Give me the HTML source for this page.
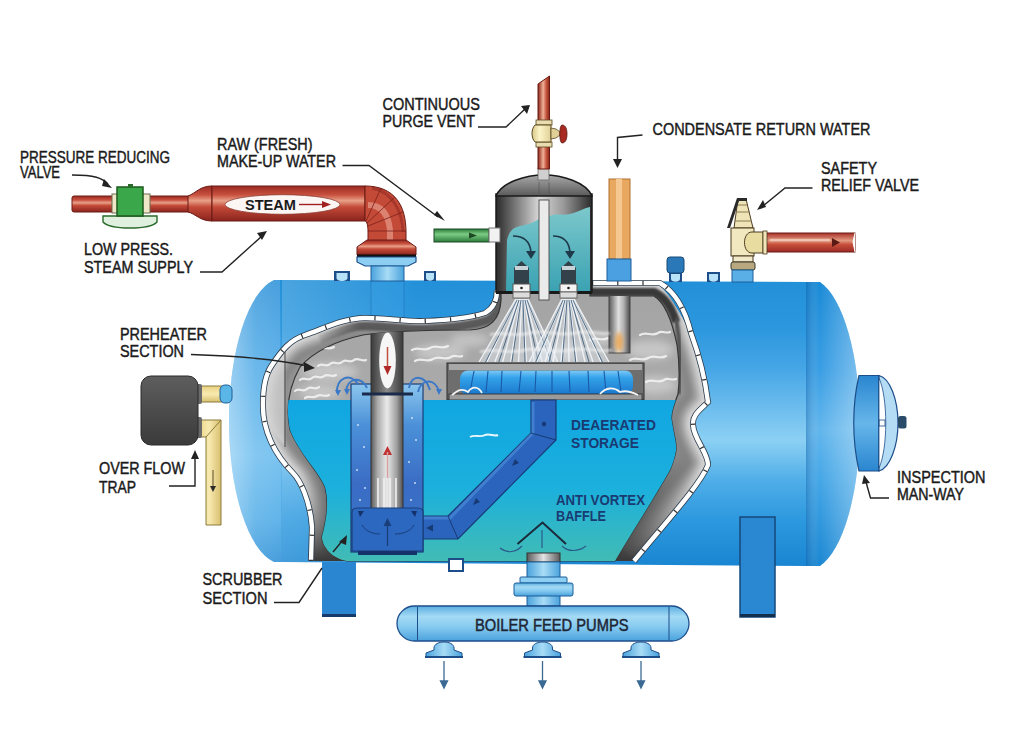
<!DOCTYPE html>
<html><head><meta charset="utf-8">
<style>
html,body{margin:0;padding:0;background:#fff;}
svg{display:block;}
text{font-family:"Liberation Sans",sans-serif;}
</style></head><body>
<svg width="1024" height="750" viewBox="0 0 1024 750">
<defs>
  <linearGradient id="gBody" x1="0" y1="0" x2="0" y2="1">
    <stop offset="0" stop-color="#2290d8"/>
    <stop offset="0.17" stop-color="#2c97de"/>
    <stop offset="0.31" stop-color="#46a6e6"/>
    <stop offset="0.49" stop-color="#78c4f0"/>
    <stop offset="0.56" stop-color="#8cd0f4"/>
    <stop offset="0.70" stop-color="#50aee8"/>
    <stop offset="0.84" stop-color="#2c98de"/>
    <stop offset="1" stop-color="#1a86d2"/>
  </linearGradient>
  <linearGradient id="gCapL" x1="0" y1="0" x2="1" y2="0">
    <stop offset="0" stop-color="#8ccaee"/>
    <stop offset="0.35" stop-color="#5ab0e8"/>
    <stop offset="1" stop-color="#3a9ce0"/>
  </linearGradient>
  <linearGradient id="gCapR" x1="0" y1="0" x2="1" y2="0">
    <stop offset="0" stop-color="#3a9ce0"/>
    <stop offset="0.25" stop-color="#4eaae8"/>
    <stop offset="0.6" stop-color="#45a4e4"/>
    <stop offset="1" stop-color="#86c8f0"/>
  </linearGradient>
  <linearGradient id="gWater" x1="0" y1="0" x2="0" y2="1">
    <stop offset="0" stop-color="#10a6e2"/>
    <stop offset="0.55" stop-color="#1cb0dc"/>
    <stop offset="1" stop-color="#42bcb4"/>
  </linearGradient>
  <linearGradient id="gSteam" x1="0" y1="0" x2="0" y2="1">
    <stop offset="0" stop-color="#a4a4a4"/>
    <stop offset="1" stop-color="#b4b4b4"/>
  </linearGradient>
  <linearGradient id="gBand" x1="0" y1="0" x2="1" y2="1">
    <stop offset="0" stop-color="#d8d8d8"/>
    <stop offset="0.5" stop-color="#9c9c9c"/>
    <stop offset="1" stop-color="#5a5a5a"/>
  </linearGradient>
  <linearGradient id="gRed" x1="0" y1="0" x2="0" y2="1">
    <stop offset="0" stop-color="#a8302a"/>
    <stop offset="0.4" stop-color="#e39a80"/>
    <stop offset="0.6" stop-color="#c8503c"/>
    <stop offset="1" stop-color="#9a2a24"/>
  </linearGradient>
  <linearGradient id="gGrayCyl" x1="0" y1="0" x2="1" y2="0">
    <stop offset="0" stop-color="#3a3a3a"/>
    <stop offset="0.5" stop-color="#c8c8c8"/>
    <stop offset="1" stop-color="#3a3a3a"/>
  </linearGradient>
</defs>
<rect width="1024" height="750" fill="#fff"/>

<!-- left leg (behind) -->
<rect x="322" y="555" width="34" height="62" fill="#2a86d0"/>
<rect x="322" y="614" width="34" height="3" fill="#163a6a"/>

<!-- tank -->
<linearGradient id="gCapV" x1="0" y1="0" x2="0" y2="1">
  <stop offset="0" stop-color="#1a8ad6"/><stop offset="0.31" stop-color="#3a9ee4"/><stop offset="0.52" stop-color="#62b6ec"/><stop offset="0.7" stop-color="#44a6e6"/><stop offset="1" stop-color="#1a86d2"/>
</linearGradient>
<linearGradient id="gCapRH" x1="0" y1="0" x2="1" y2="0">
  <stop offset="0" stop-color="#003a80" stop-opacity="0.25"/><stop offset="0.25" stop-color="#ffffff" stop-opacity="0"/><stop offset="1" stop-color="#ffffff" stop-opacity="0.35"/>
</linearGradient>
<linearGradient id="gCapLH" x1="0" y1="0" x2="1" y2="0">
  <stop offset="0" stop-color="#ffffff" stop-opacity="0.45"/><stop offset="0.45" stop-color="#ffffff" stop-opacity="0.2"/><stop offset="1" stop-color="#ffffff" stop-opacity="0.12"/>
</linearGradient>
<linearGradient id="gCapLV" x1="0" y1="0" x2="0" y2="1"><stop offset="0" stop-color="#2a90d8"/><stop offset="0.3" stop-color="#46a6e6"/><stop offset="0.62" stop-color="#66baee"/><stop offset="0.85" stop-color="#48a8e6"/><stop offset="1" stop-color="#2a8ed6"/></linearGradient>
<path id="capL" d="M288 280 L274 280 A54 143 0 0 0 274 562 L288 562 Z" fill="url(#gCapLV)"/>
<path d="M288 280 L274 280 A54 143 0 0 0 274 562 L288 562 Z" fill="url(#gCapLH)"/>
<path d="M280 280 L810 282 L810 566 L282 562 Z" fill="url(#gBody)"/>
<linearGradient id="gBodyL" gradientUnits="userSpaceOnUse" x1="283" x2="420" y1="0" y2="0"><stop offset="0" stop-color="#ffffff" stop-opacity="0.18"/><stop offset="1" stop-color="#ffffff" stop-opacity="0"/></linearGradient>
<path d="M282 280 L420 280.5 L420 562.5 L282 562 Z" fill="url(#gBodyL)"/>
<path d="M806 282 L820 282 A52 146 0 0 1 820 566 L806 566 Z" fill="url(#gCapV)"/>
<path d="M806 282 L820 282 A52 146 0 0 1 820 566 L806 566 Z" fill="url(#gCapRH)"/>
<rect x="371" y="281" width="33" height="45" fill="#3aa0e6" opacity="0.35"/><line x1="371" y1="281" x2="371" y2="322" stroke="#1d6ab0" stroke-width="0.8" opacity="0.6"/><line x1="404" y1="281" x2="404" y2="320" stroke="#1d6ab0" stroke-width="0.8" opacity="0.6"/>
<!-- cutaway -->
<path id="cutOuter" d="M311 561 L312 527 C310 500 300 480 293 473 C275 455 262 430 263 403 C263 388 265 375 272 365 C282 350 290 340 305 335 C325 328 345 318 365 318 C390 318 405 322 425 321 C450 320 470 318 485 313 C494 308 497 300 497 290 L592 290 L592 283 L656 283 C668 290 685 320 698 350 C705 370 709 390 708 402 C700 410 692 415 693 425 C694 440 708 452 708 465 C700 485 666 522 634 561 Z" fill="url(#gBandV)"/>
<linearGradient id="gBandV" gradientUnits="userSpaceOnUse" x1="0" x2="0" y1="283" y2="561"><stop offset="0" stop-color="#a0a0a0"/><stop offset="0.6" stop-color="#8c8c8c"/><stop offset="1" stop-color="#3a3a3a"/></linearGradient>
<clipPath id="clipOuter"><use href="#cutOuter"/></clipPath>
<filter id="blur3" x="-10%" y="-10%" width="120%" height="120%"><feGaussianBlur stdDeviation="3"/></filter>
<linearGradient id="gMaskV" gradientUnits="userSpaceOnUse" x1="0" x2="0" y1="470" y2="561"><stop offset="0" stop-color="#fff"/><stop offset="1" stop-color="#000"/></linearGradient>
<mask id="maskBottom" maskUnits="userSpaceOnUse" x="0" y="0" width="1024" height="750"><rect x="0" y="0" width="1024" height="750" fill="url(#gMaskV)"/></mask>
<g clip-path="url(#clipOuter)"><g mask="url(#maskBottom)"><g fill="none" filter="url(#blur3)">
  <path d="M311 561 L312 527 C310 500 300 480 293 473 C275 455 262 430 263 403 C263 388 265 375 272 365 C282 350 290 340 305 335 C325 328 345 318 365 318 C390 318 405 322 425 321 C450 320 470 318 485 313 C494 308 497 300 497 290 M592 283 L660 283 C672 290 684 305 691 333 C698 352 705 378 708 402 C700 410 692 415 693 425 C694 440 708 452 708 465 C700 485 666 522 634 561" stroke="#7e7e7e" stroke-width="40"/>
  <path d="M311 561 L312 527 C310 500 300 480 293 473 C275 455 262 430 263 403 C263 388 265 375 272 365 C282 350 290 340 305 335 C325 328 345 318 365 318 C390 318 405 322 425 321 C450 320 470 318 485 313 C494 308 497 300 497 290 M592 283 L660 283 C672 290 684 305 691 333 C698 352 705 378 708 402 C700 410 692 415 693 425 C694 440 708 452 708 465 C700 485 666 522 634 561" stroke="#9c9c9c" stroke-width="28"/>
  <path d="M311 561 L312 527 C310 500 300 480 293 473 C275 455 262 430 263 403 C263 388 265 375 272 365 C282 350 290 340 305 335 C325 328 345 318 365 318 C390 318 405 322 425 321 C450 320 470 318 485 313 C494 308 497 300 497 290 M592 283 L660 283 C672 290 684 305 691 333 C698 352 705 378 708 402 C700 410 692 415 693 425 C694 440 708 452 708 465 C700 485 666 522 634 561" stroke="#b8b8b8" stroke-width="18"/>
  <path d="M311 561 L312 527 C310 500 300 480 293 473 C275 455 262 430 263 403 C263 388 265 375 272 365 C282 350 290 340 305 335 C325 328 345 318 365 318 C390 318 405 322 425 321 C450 320 470 318 485 313 C494 308 497 300 497 290 M592 283 L660 283 C672 290 684 305 691 333 C698 352 705 378 708 402 C700 410 692 415 693 425 C694 440 708 452 708 465 C700 485 666 522 634 561" stroke="#dadada" stroke-width="12"/>
</g></g>
<path d="M262 370 C275 357 280 353 285 350 L285 447 C276 437 262 420 262 403 Z" fill="#d4d4d4" opacity="0.75" filter="url(#blur1)"/>
<path d="M320 339 C335 334 348 326 365 326 C390 326 405 330 425 329 C450 328 470 326 488 320 C498 314 501 305 501 292" fill="none" stroke="url(#gTaper)" stroke-width="9" filter="url(#blur1)"/>
</g>
<path d="M311 561 L312 527 C310 500 300 480 293 473 C275 455 262 430 263 403 C263 388 265 375 272 365 C282 350 290 340 305 335 C325 328 345 318 365 318 C390 318 405 322 425 321 C450 320 470 318 485 313 C494 308 497 300 497 290 M592 283 L660 283 C672 290 684 305 691 333 C698 352 705 378 708 402 C700 410 692 415 693 425 C694 440 708 452 708 465 C700 485 666 522 634 561" fill="none" stroke="#2a3a4a" stroke-width="6"/>
<path d="M311 561 L312 527 C310 500 300 480 293 473 C275 455 262 430 263 403 C263 388 265 375 272 365 C282 350 290 340 305 335 C325 328 345 318 365 318 C390 318 405 322 425 321 C450 320 470 318 485 313 C494 308 497 300 497 290 M592 283 L660 283 C672 290 684 305 691 333 C698 352 705 378 708 402 C700 410 692 415 693 425 C694 440 708 452 708 465 C700 485 666 522 634 561" fill="none" stroke="#fff" stroke-width="4.4"/>
<path d="M311 561 L312 527 C310 500 300 480 293 473 C275 455 262 430 263 403 C263 388 265 375 272 365 C282 350 290 340 305 335 C325 328 345 318 365 318 C390 318 405 322 425 321 C450 320 470 318 485 313 C494 308 497 300 497 290 M592 283 L660 283 C672 290 684 305 691 333 C698 352 705 378 708 402 C700 410 692 415 693 425 C694 440 708 452 708 465 C700 485 666 522 634 561" fill="none" stroke="#333" stroke-width="4.4" stroke-dasharray="1.2 24"/>
<path d="M588 292 L654 292 C665 297 672 308 676 322" fill="none" stroke="#383838" stroke-width="8" filter="url(#blur1)"/>
<linearGradient id="gTaper" gradientUnits="userSpaceOnUse" x1="310" x2="360" y1="0" y2="0"><stop offset="0" stop-color="#505050" stop-opacity="0"/><stop offset="1" stop-color="#505050" stop-opacity="0.9"/></linearGradient>

<path d="M676 318 C680 340 681 370 679 394" fill="none" stroke="#505050" stroke-width="4" filter="url(#blur1)"/>
<filter id="blur1" x="-20%" y="-20%" width="140%" height="140%"><feGaussianBlur stdDeviation="1.2"/></filter>
<path id="cutInner" d="M347 561 C330 558 322 545 322 537 C325 525 330 505 325 487 C318 470 300 455 290 430 C286 410 287 390 300 367 C315 350 340 340 363 335 C390 331 420 330 470 330 C490 329 500 320 501 300 L501 292 L590 292 L590 296 L654 296 C664 302 672 320 677 345 C680 365 679 385 678 394 C674 405 670 415 672 422 C674 435 677 445 676 450 C675 458 672 465 670 470 C650 505 630 535 615 561 Z" fill="url(#gSteam)" stroke="#333" stroke-width="1.2"/>
<path d="M285 352 L285 447" stroke="#444" stroke-width="1"/>
<clipPath id="clipInner"><use href="#cutInner"/></clipPath>



<g clip-path="url(#clipInner)">
  <!-- mist blobs -->
  <filter id="blur4" x="-50%" y="-50%" width="200%" height="200%"><feGaussianBlur stdDeviation="4"/></filter>
  <g fill="#e0e0e0" opacity="0.55" filter="url(#blur4)">
    <ellipse cx="330" cy="372" rx="28" ry="9"/><ellipse cx="320" cy="392" rx="22" ry="7"/>
    <ellipse cx="440" cy="352" rx="26" ry="8"/><ellipse cx="470" cy="340" rx="20" ry="6"/>
    <ellipse cx="650" cy="350" rx="24" ry="10"/><ellipse cx="655" cy="385" rx="22" ry="9"/>
    <ellipse cx="600" cy="340" rx="16" ry="6"/><ellipse cx="560" cy="352" rx="26" ry="7"/>
  </g>
  <!-- clouds -->
  <g fill="none" stroke="#f2f2f2" stroke-width="2.2" stroke-linecap="round" opacity="0.9">
    <path d="M318 366 C322 362 326 368 330 364 C334 360 338 366 342 362 C346 358 350 364 354 360 C358 357 362 362 366 360"/>
    <path d="M300 380 C304 376 308 382 312 378 C316 374 320 380 324 376 C328 373 332 378 336 375"/>
    <path d="M295 391 C299 387 303 393 307 389 C311 385 315 391 319 387"/>
    <path d="M305 398 C309 395 313 399 317 396 C321 393 325 398 329 395"/>
    <path d="M412 350 C418 346 424 352 430 348 C436 344 442 350 448 346"/>
    <path d="M415 361 C421 357 427 363 433 359 C439 355 445 361 451 357 C455 354 459 358 462 356"/>
    <path d="M300 352 C305 347 310 353 316 349 C322 345 328 351 334 347"/>
    <path d="M590 340 C596 336 602 342 608 338"/>
    <path d="M640 335 C646 331 652 337 658 333 C662 330 666 334 670 332"/>
    <path d="M630 360 C636 356 642 362 648 358 C654 354 660 360 666 356"/>
    <path d="M460 385 C466 381 472 387 478 383"/>
    <path d="M646 382 C652 378 658 384 664 380 C668 377 672 381 676 379"/>
    <path d="M600 395 C606 391 612 397 618 393 C624 389 630 395 636 391"/>
  </g>
  <!-- condensate inner -->
  <linearGradient id="gCondIn" x1="0" y1="0" x2="1" y2="0"><stop offset="0" stop-color="#5a5a5a"/><stop offset="0.45" stop-color="#e0e0e0"/><stop offset="0.7" stop-color="#b0b0b0"/><stop offset="1" stop-color="#4a4a4a"/></linearGradient>
  <rect x="609" y="290" width="21" height="63" fill="url(#gCondIn)" stroke="#444" stroke-width="1"/>
  <filter id="blur2" x="-50%" y="-50%" width="200%" height="200%"><feGaussianBlur stdDeviation="2"/></filter>
  <ellipse cx="619" cy="342" rx="4" ry="10" fill="#f0a040" opacity="0.8" filter="url(#blur2)"/>
  <!-- spray fans -->
  <path d="M515 299 L529 299 L558 362 L479 362 Z" fill="#dfe8f0" opacity="0.45"/>
  <g stroke="#f2f6fa" stroke-width="1.4" fill="none" opacity="0.9"><path d="M516.0 299 L479.0 362"/><path d="M517.2 299 L486.9 362"/><path d="M518.4 299 L494.8 362"/><path d="M519.6 299 L502.7 362"/><path d="M520.8 299 L510.6 362"/><path d="M522.0 299 L518.5 362"/><path d="M523.2 299 L526.4 362"/><path d="M524.4 299 L534.3 362"/><path d="M525.6 299 L542.2 362"/><path d="M526.8 299 L550.1 362"/><path d="M528.0 299 L558.0 362"/></g>
  <g stroke="#3a5a7a" stroke-width="1" fill="none" opacity="0.85"><path d="M517.0 300 L485.6 362"/><path d="M519.0 300 L498.8 362"/><path d="M521.0 300 L511.9 362"/><path d="M523.0 300 L525.1 362"/><path d="M525.0 300 L538.2 362"/><path d="M527.0 300 L551.4 362"/></g>
  <path d="M561 299 L575 299 L609 362 L529 362 Z" fill="#dfe8f0" opacity="0.45"/>
  <g stroke="#f2f6fa" stroke-width="1.4" fill="none" opacity="0.9"><path d="M562.0 299 L529.0 362"/><path d="M563.2 299 L537.0 362"/><path d="M564.4 299 L545.0 362"/><path d="M565.6 299 L553.0 362"/><path d="M566.8 299 L561.0 362"/><path d="M568.0 299 L569.0 362"/><path d="M569.2 299 L577.0 362"/><path d="M570.4 299 L585.0 362"/><path d="M571.6 299 L593.0 362"/><path d="M572.8 299 L601.0 362"/><path d="M574.0 299 L609.0 362"/></g>
  <g stroke="#3a5a7a" stroke-width="1" fill="none" opacity="0.85"><path d="M563.0 300 L535.7 362"/><path d="M565.0 300 L549.0 362"/><path d="M567.0 300 L562.3 362"/><path d="M569.0 300 L575.7 362"/><path d="M571.0 300 L589.0 362"/><path d="M573.0 300 L602.3 362"/></g>
  <g fill="none" stroke="#f4f4f4" stroke-width="3" opacity="0.6" filter="url(#blur1)"><path d="M490 335 C500 330 515 338 530 333 C545 329 560 337 575 333 C590 329 600 336 610 333"/><path d="M480 352 C495 347 510 355 525 350 C540 346 555 354 570 350 C585 346 600 353 612 350"/></g>
  <!-- tray -->
  <linearGradient id="gTrayW" x1="0" y1="0" x2="0" y2="1"><stop offset="0" stop-color="#7ccaf6"/><stop offset="0.3" stop-color="#34a2ea"/><stop offset="1" stop-color="#1a78cc"/></linearGradient>
  <rect x="447" y="363" width="197" height="37" fill="#6e6e6e" stroke="#2a2a2a" stroke-width="1"/>
  <rect x="449" y="364" width="193" height="6" fill="#a8a8a8"/>
  <rect x="460" y="370.5" width="173" height="24" rx="8" fill="url(#gTrayW)"/>
  <g stroke="#1a5aa8" stroke-width="1.1">
    <line x1="474" y1="371" x2="470" y2="392"/><line x1="488" y1="371" x2="486" y2="392"/><line x1="502" y1="371" x2="501" y2="392"/>
    <line x1="521" y1="371" x2="519" y2="392"/><line x1="536" y1="371" x2="535" y2="392"/><line x1="552" y1="371" x2="552" y2="392"/>
    <line x1="569" y1="371" x2="570" y2="392"/><line x1="588" y1="371" x2="589" y2="392"/><line x1="604" y1="371" x2="606" y2="392"/><line x1="618" y1="371" x2="621" y2="392"/>
  </g>
  <rect x="449" y="394" width="193" height="6" fill="#9a9a9a" stroke="#2a2a2a" stroke-width="0.8"/>
  <path d="M452 395 C458 390 462 388 468 392 C472 386 478 386 482 393" fill="none" stroke="#f4f4f4" stroke-width="1.8"/>
  <path d="M600 394 C606 387 614 387 620 392 C626 390 632 392 638 395" fill="none" stroke="#f4f4f4" stroke-width="1.8"/>
  <!-- water region overlay -->
  <rect x="280" y="400" width="420" height="162" fill="url(#gWater)"/>
  <path d="M470 437 C475 434 480 438 485 435 C490 433 494 437 498 435" fill="none" stroke="#e8f6fc" stroke-width="2"/>
  <!-- slanted downcomer pipe -->
  <path d="M531 400 L556 400 L556 440 L458 539 L416 539 L416 516 L448 516 L531 433 Z" fill="#2a64bc" stroke="#183a74" stroke-width="1.2"/>
  <path d="M533 402 L533 433 L450 518 L418 518" fill="none" stroke="#4a8ad8" stroke-width="3" opacity="0.7"/>
  <path d="M531 433 L556 440 M448 516 L458 539" stroke="#183a74" stroke-width="1"/>
  <circle cx="544" cy="424" r="2.2" fill="#183a74"/>
  <path d="M512 466 L519 463 L515 459 Z" fill="#183a74"/>
  <path d="M473 505 L480 502 L476 498 Z" fill="#183a74"/>
  <path d="M426 528 L433 524.5 L433 531.5 Z" fill="#183a74"/>
  <!-- scrubber -->
  <linearGradient id="gScrub" x1="0" y1="0" x2="0" y2="1">
    <stop offset="0" stop-color="#8cc6ee"/><stop offset="0.25" stop-color="#4a90d8"/><stop offset="0.6" stop-color="#3a6cc4"/><stop offset="1" stop-color="#3a78cc"/>
  </linearGradient>
  <rect x="351" y="384" width="72" height="168" fill="url(#gScrub)" stroke="#1a3e7a" stroke-width="1.2"/>
  <g fill="#e8f4ff" opacity="0.8">
    <circle cx="358" cy="425" r="1"/><circle cx="364" cy="447" r="1"/><circle cx="357" cy="470" r="1"/><circle cx="365" cy="488" r="1"/>
    <circle cx="412" cy="418" r="1"/><circle cx="416" cy="440" r="1"/><circle cx="409" cy="462" r="1"/><circle cx="415" cy="483" r="1"/>
    <circle cx="360" cy="500" r="1"/><circle cx="411" cy="500" r="1"/>
  </g>
  <linearGradient id="gPipeDark" x1="0" y1="0" x2="1" y2="0">
    <stop offset="0" stop-color="#3a3a3a"/><stop offset="0.5" stop-color="#8a8a8a"/><stop offset="1" stop-color="#3a3a3a"/>
  </linearGradient>
  <linearGradient id="gPipeLight" x1="0" y1="0" x2="1" y2="0">
    <stop offset="0" stop-color="#5a5a5a"/><stop offset="0.2" stop-color="#a8a8a8"/><stop offset="0.5" stop-color="#eaeaea"/><stop offset="0.8" stop-color="#a0a0a0"/><stop offset="1" stop-color="#505050"/>
  </linearGradient>
  <rect x="371" y="331" width="32" height="63" fill="url(#gPipeDark)" stroke="#333" stroke-width="1"/>
  <rect x="371" y="394" width="32" height="115" fill="url(#gPipeLight)" stroke="#333" stroke-width="1"/>
  <g stroke="#f0f0f0" stroke-width="2" opacity="0.8">
    <line x1="378" y1="478" x2="378" y2="508"/><line x1="384" y1="478" x2="384" y2="508"/><line x1="390" y1="478" x2="390" y2="508"/><line x1="396" y1="478" x2="396" y2="508"/>
  </g>
  <line x1="362" y1="394" x2="413" y2="394" stroke="#1a2a4a" stroke-width="2.8"/>
  <ellipse cx="387.5" cy="360.5" rx="8.3" ry="28" fill="#f6f6f6"/>
  <line x1="387.5" y1="347" x2="387.5" y2="368" stroke="#c05040" stroke-width="1.5"/>
  <path d="M383.5 366 L391.5 366 L387.5 375 Z" fill="#b02828"/>
  <path d="M383 455 L392 455 L387.5 446 Z" fill="#c03030"/>
  <line x1="387.5" y1="452" x2="387.5" y2="478" stroke="#d8a0a0" stroke-width="1.5"/>
  <path d="M352 512 Q352 508 358 508 L417 508 Q423 508 423 512 L423 551 L352 551 Z" fill="#2d68c0" stroke="#1a3e7a" stroke-width="1.2"/>
  <rect x="358" y="551" width="59" height="4" fill="#16326a"/>
  <path d="M358 511 L364 511 L360 517 Z M411 511 L417 511 L415 517 Z" fill="#16326a"/>
  <path d="M387.5 546 L387.5 522" stroke="#1a3e7a" stroke-width="1.3"/>
  <path d="M383.5 526 L391.5 526 L387.5 518 Z" fill="#1a3e7a"/>
  <path d="M362 525 C366 532 374 534 380 534 M395 534 C402 534 410 532 414 525" fill="none" stroke="#1a3e7a" stroke-width="1"/>
  <!-- fountains -->
  <g fill="none" stroke="#3a78c8" stroke-width="2">
    <path d="M337 393 C336 378 350 372 358 384"/>
    <path d="M346 392 C347 377 362 376 367 388"/>
    <path d="M409 388 C411 374 425 374 430 390"/>
    <path d="M418 392 C421 378 436 378 439 392"/>
  </g>
  <g fill="#3a78c8"><path d="M335 390 L341 390 L338 396 Z"/><path d="M344 389 L350 389 L347 395 Z"/><path d="M436 389 L442 389 L439 395 Z"/></g>
  <!-- baffle -->
  <path d="M517.5 544 L542.5 522.5 L566 544" fill="none" stroke="#1a2a3a" stroke-width="2"/>
  <g fill="none" stroke="#2a5a8a" stroke-width="1.2">
    <path d="M500 548 C508 554 516 552 522 546"/><path d="M562 546 C568 552 578 552 586 546"/>
    <path d="M542 530 L542 548"/>
  </g>
  <text x="571" y="429.5" font-size="15.3" font-weight="bold" fill="#1a3a72" textLength="85" lengthAdjust="spacingAndGlyphs">DEAERATED</text>
  <text x="571" y="447.5" font-size="15.3" font-weight="bold" fill="#1a3a72" textLength="68" lengthAdjust="spacingAndGlyphs">STORAGE</text>
  <text x="556" y="505" font-size="14" font-weight="bold" fill="#1a3a72" textLength="89" lengthAdjust="spacingAndGlyphs">ANTI VORTEX</text>
  <text x="556" y="521" font-size="15" font-weight="bold" fill="#1a3a72" textLength="50" lengthAdjust="spacingAndGlyphs">BAFFLE</text>
</g>


<!-- top nozzles -->
<path d="M334 271 L350 271 L350 281 L334 281 Z" fill="#1d4e8a"/><path d="M336.5 273 L347.5 273 L347.5 278 C347.5 282 336.5 282 336.5 278 Z" fill="#b8e2f8"/>
<path d="M424 271 L436 271 L436 281 L424 281 Z" fill="#1d4e8a"/><path d="M426 273 L434 273 L434 278 C434 281.5 426 281.5 426 278 Z" fill="#b8e2f8"/>
<path d="M707 272 L720 272 L720 282 L707 282 Z" fill="#1d4e8a"/><path d="M709 274 L718 274 L718 279 C718 282.5 709 282.5 709 279 Z" fill="#b8e2f8"/>
<path d="M669 272 L682 272 L682 282 L669 282 Z" fill="#1d4e8a"/><path d="M671 274 L680 274 L680 279 C680 282.5 671 282.5 671 279 Z" fill="#b8e2f8"/>
<rect x="667" y="257" width="17" height="16" rx="3" fill="#2a78b8" stroke="#184a7a" stroke-width="1"/>

<!-- dome -->
<linearGradient id="gCap" x1="0" y1="0" x2="0" y2="1"><stop offset="0" stop-color="#a8a8a8"/><stop offset="1" stop-color="#5a5a5a"/></linearGradient>
<linearGradient id="gCyl2" x1="0" y1="0" x2="1" y2="0"><stop offset="0" stop-color="#2a2a2a"/><stop offset="0.45" stop-color="#d8d8d8"/><stop offset="0.7" stop-color="#9a9a9a"/><stop offset="1" stop-color="#2a2a2a"/></linearGradient>
<linearGradient id="gTeal" x1="0" y1="0" x2="0" y2="1"><stop offset="0" stop-color="#7cc8cc"/><stop offset="1" stop-color="#3aa2b2"/></linearGradient>
<rect x="496" y="194" width="96" height="98" fill="url(#gCyl2)" stroke="#1a1a1a" stroke-width="1.5"/>
<path d="M506 292 L507 240 C509 232 512 228 520 226 C530 224 535 222 540 218 L550 216 C556 213 562 216 570 214 C578 212 584 208 590 207 L590 292 Z" fill="url(#gTeal)"/>
<rect x="496" y="291" width="96" height="3" fill="#1a1a1a"/>
<path d="M496 196 C502 182 526 175 544 175 C562 175 586 182 592 196 Z" fill="url(#gCap)" stroke="#1a1a1a" stroke-width="1.5"/>
<rect x="538" y="168" width="11" height="12" fill="#d0d0d0" stroke="#666" stroke-width="0.8"/>
<line x1="539" y1="182" x2="539" y2="194" stroke="#444" stroke-width="0.8" opacity="0.6"/><line x1="549" y1="182" x2="549" y2="194" stroke="#444" stroke-width="0.8" opacity="0.6"/>
<rect x="539" y="200" width="10" height="100" fill="#eaeaea" stroke="#4a4a4a" stroke-width="0.9"/>
<path d="M513 236 C524 236 530 242 531 252" fill="none" stroke="#1e3a4a" stroke-width="1.6"/>
<path d="M526 251 L536 251 L531 259 Z" fill="#1e3a4a"/>
<path d="M553 236 C564 236 569 242 570 252" fill="none" stroke="#1e3a4a" stroke-width="1.6"/>
<path d="M565 251 L575 251 L570 259 Z" fill="#1e3a4a"/>
<path d="M514 285 L514 268 L521.5 261 L529 268 L529 285 Z" fill="#33414a"/><rect x="515" y="266" width="13" height="4" fill="#c8d4d8"/>
<rect x="513" y="284" width="17" height="8" fill="#f4f4f4" stroke="#555" stroke-width="1"/><circle cx="521.5" cy="288" r="1.3" fill="#222"/>
<rect x="513" y="292" width="17" height="6" fill="#dcdcdc" stroke="#555" stroke-width="0.8"/>
<path d="M561 285 L561 268 L568.5 261 L576 268 L576 285 Z" fill="#33414a"/><rect x="562" y="266" width="13" height="4" fill="#c8d4d8"/>
<rect x="560" y="284" width="17" height="8" fill="#f4f4f4" stroke="#555" stroke-width="1"/><circle cx="568.5" cy="288" r="1.3" fill="#222"/>
<rect x="560" y="292" width="17" height="6" fill="#dcdcdc" stroke="#555" stroke-width="0.8"/>

<!-- vent pipe -->
<linearGradient id="gRedVert" x1="0" y1="0" x2="1" y2="0"><stop offset="0" stop-color="#8a2418"/><stop offset="0.45" stop-color="#f0b098"/><stop offset="0.7" stop-color="#c85a44"/><stop offset="1" stop-color="#8a2418"/></linearGradient>
<linearGradient id="gCream" x1="0" y1="0" x2="1" y2="0"><stop offset="0" stop-color="#d8c888"/><stop offset="0.4" stop-color="#fcf4c8"/><stop offset="1" stop-color="#e0d098"/></linearGradient>
<path d="M538 169 L538 84 L549.5 76 L549.5 169 Z" fill="url(#gRedVert)" stroke="#6a1a10" stroke-width="1"/>
<rect x="536" y="120" width="16" height="5" fill="#e8dcb0" stroke="#5a4a20" stroke-width="0.8"/>
<rect x="536" y="142" width="16" height="5" fill="#e8dcb0" stroke="#5a4a20" stroke-width="0.8"/>
<path d="M535 125 L551 125 L551 142 L535 142 C531 138 531 129 535 125 Z" fill="url(#gCream)" stroke="#5a4a20" stroke-width="1"/>
<path d="M551 128 L556 129 L560 132 L560 135 L556 138 L551 139 Z" fill="#e0d098" stroke="#5a4a20" stroke-width="0.8"/>
<path d="M562 125 C566 125 567 130 567 134 C567 138 566 143 562 143 C559 143 559 125 562 125 Z" fill="#a82a22" stroke="#5a1a10" stroke-width="0.8"/>
<!-- green make-up pipe -->
<linearGradient id="gGrn" x1="0" y1="0" x2="0" y2="1"><stop offset="0" stop-color="#2a7a3a"/><stop offset="0.4" stop-color="#7ccc84"/><stop offset="1" stop-color="#2a7a3a"/></linearGradient>
<rect x="434" y="229" width="55" height="13" fill="url(#gGrn)" stroke="#1d4a24" stroke-width="1"/>
<path d="M469 232.5 L477 235.5 L469 238.5 Z" fill="#1d4a24"/>
<rect x="489" y="228" width="11" height="14" fill="#f2f2f2" stroke="#777" stroke-width="1"/>

<!-- red steam pipe -->
<linearGradient id="gRed2" x1="0" y1="0" x2="0" y2="1"><stop offset="0" stop-color="#9a2a22"/><stop offset="0.25" stop-color="#c8503e"/><stop offset="0.42" stop-color="#e8a088"/><stop offset="0.6" stop-color="#c44a38"/><stop offset="1" stop-color="#8a241e"/></linearGradient>
<linearGradient id="gRedV" x1="0" y1="0" x2="1" y2="0"><stop offset="0" stop-color="#9a2a22"/><stop offset="0.45" stop-color="#e8a088"/><stop offset="0.6" stop-color="#c44a38"/><stop offset="1" stop-color="#8a241e"/></linearGradient>
<rect x="72" y="196" width="120" height="16" rx="2" fill="url(#gRed2)" stroke="#6a1a14" stroke-width="1"/>
<rect x="112" y="194" width="38" height="19" fill="#efe8c8" stroke="#6a6a50" stroke-width="1"/>
<path d="M103 216 L157 216 L157 222 C150 230 110 230 103 222 Z" fill="#dff0df" stroke="#2a6a2a" stroke-width="1.4"/>
<rect x="117" y="187" width="26" height="29" fill="#3aa84a" stroke="#1d5a1d" stroke-width="1.5"/>
<rect x="128" y="184" width="5" height="3" fill="#2a6a2a"/>
<path d="M188 196 C196 193 200 186 212 186 L212 221 C200 221 196 214 188 212 Z" fill="url(#gRed2)" stroke="#6a1a14" stroke-width="1"/>
<rect x="212" y="186" width="153" height="35" fill="url(#gRed2)" stroke="#6a1a14" stroke-width="1"/>
<path d="M365 186 C395 186 406 206 406 232 L406 246 L368 246 L368 232 C368 226 367 221 365 221 Z" fill="#c44a38" stroke="#6a1a14" stroke-width="1"/>
<path d="M372 188 C392 192 402 210 403 232" fill="none" stroke="#8a241e" stroke-width="3" opacity="0.5"/>
<path d="M368 205 C380 205 388 212 390 230 L390 246" fill="none" stroke="#f0b0a0" stroke-width="6" opacity="0.55"/>
<g stroke="#7a2018" stroke-width="1" fill="none" opacity="0.8">
<path d="M366 221 L381 188"/><path d="M367 223 L395 197"/><path d="M368 226 L403 212"/><path d="M368 231 L406 231"/>
</g>
<path d="M367 240 L406 240 L416 247 L416 255 L357 255 L357 247 Z" fill="url(#gRed2)" stroke="#6a1a14" stroke-width="1"/>
<rect x="357" y="254.5" width="59" height="2.5" fill="#111"/>
<path d="M357 257 L416 257 L416 262 L408 266 L365 266 L357 262 Z" fill="#8ccff2" stroke="#1d4e8a" stroke-width="1.2"/>
<rect x="371" y="266" width="33" height="15" fill="url(#gHdrV)" stroke="#1d5e9a" stroke-width="1"/>
<ellipse cx="282.5" cy="204.5" rx="57.5" ry="9.8" fill="#fbf6f4" stroke="#8a3a30" stroke-width="0.8"/>
<text x="245" y="209.8" font-size="14.5" font-weight="bold" fill="#1a1a1a" textLength="51" lengthAdjust="spacingAndGlyphs">STEAM</text>
<line x1="299" y1="204.5" x2="324" y2="204.5" stroke="#a02020" stroke-width="1.4"/>
<path d="M322 201 L331 204.5 L322 208 Z" fill="#a02020"/>

<!-- condensate pipe -->
<rect x="609" y="179" width="21" height="80" fill="#e8a860" stroke="#b07030" stroke-width="1"/>
<rect x="616" y="179" width="6" height="80" fill="#f4c890"/>
<rect x="607" y="259" width="24" height="22" fill="#4aa0e0" stroke="#1d5e9a" stroke-width="1"/>

<!-- safety valve -->
<rect x="764" y="233" width="91" height="19" fill="url(#gRed)" stroke="#6a1a14" stroke-width="1"/>
<path d="M770 240 L830 240" stroke="#f4d0c0" stroke-width="2.5" opacity="0.8"/>
<path d="M832 238 L840 242.5 L832 247 Z" fill="#5a1a14"/>
<path d="M855 233 L853 242 L855 252" fill="#fff" stroke="#fff" stroke-width="1"/>
<path d="M738 199 L746 199 L753 228 L734 228 Z" fill="#efe4b8" stroke="#4a3a20" stroke-width="1"/>
<path d="M736 212 L750 212 M735 221 L752 221 M738 205 L747 205" stroke="#8a7a50" stroke-width="1"/>
<path d="M727 228 L737 198 L747 198 L747 201 L739 201 L730 228 Z" fill="#2a2a2a"/>
<rect x="731" y="228" width="23" height="28" fill="#f2e8c0" stroke="#4a3a20" stroke-width="1"/>
<path d="M752 232 L763 232 L763 253 L752 253 C742 253 742 232 752 232 Z" fill="#e8dca0" stroke="#4a3a20" stroke-width="1"/>
<rect x="763" y="231" width="4" height="23" fill="#f0e4b8" stroke="#4a3a20" stroke-width="0.8"/>
<rect x="733" y="256" width="20" height="6" fill="#f0e8c8" stroke="#4a3a20" stroke-width="1"/>
<rect x="731" y="262" width="24" height="8" rx="2" fill="#b8a880" stroke="#3a3a2a" stroke-width="1"/>
<rect x="732" y="270" width="21" height="12" fill="#5ab0e6" stroke="#1d5e9a" stroke-width="1"/>
<!-- right leg -->
<rect x="740" y="517" width="35" height="100" fill="#2a88d2" stroke="#16487a" stroke-width="1.5"/>
<rect x="740" y="614" width="35" height="3" fill="#12304e"/>

<!-- bottom small nozzle -->
<rect x="449" y="559" width="14" height="12" fill="#fff" stroke="#1d4e8a" stroke-width="2"/>

<!-- header -->
<linearGradient id="gHdr" x1="0" y1="0" x2="0" y2="1"><stop offset="0" stop-color="#5aaee2"/><stop offset="0.3" stop-color="#a4daf4"/><stop offset="0.6" stop-color="#86caf0"/><stop offset="1" stop-color="#4aa2dc"/></linearGradient>
<linearGradient id="gHdrV" x1="0" y1="0" x2="1" y2="0"><stop offset="0" stop-color="#4aa2dc"/><stop offset="0.5" stop-color="#a8dcf6"/><stop offset="1" stop-color="#4aa2dc"/></linearGradient>
<linearGradient id="gMetal" x1="0" y1="0" x2="1" y2="0"><stop offset="0" stop-color="#5a5a5a"/><stop offset="0.5" stop-color="#e4e4e4"/><stop offset="1" stop-color="#5a5a5a"/></linearGradient>
<rect x="527" y="553" width="33" height="9" fill="url(#gMetal)" stroke="#333" stroke-width="1"/>
<rect x="527" y="562" width="33" height="44" fill="url(#gHdrV)" stroke="#1d5e9a" stroke-width="1"/>
<rect x="520" y="577" width="47" height="6" rx="1" fill="#8ccff2" stroke="#1d5e9a" stroke-width="1"/>
<rect x="514" y="583" width="59" height="13" rx="2" fill="url(#gHdr)" stroke="#1d5e9a" stroke-width="1"/>
<rect x="397" y="606" width="292" height="35" rx="17.5" fill="url(#gHdr)" stroke="#1d4e8a" stroke-width="1.3"/>
<line x1="417.5" y1="607" x2="417.5" y2="640" stroke="#1d4e8a" stroke-width="1"/>
<line x1="669" y1="607" x2="669" y2="640" stroke="#1d4e8a" stroke-width="1"/>
<text x="475" y="630.6" font-size="17" fill="#1e2636" stroke="#1e2636" stroke-width="0.5" textLength="153.5" lengthAdjust="spacingAndGlyphs">BOILER FEED PUMPS</text>
<g fill="url(#gHdrV)" stroke="#1d4e8a" stroke-width="1">
<path d="M434 648 C434 640 454 640 454 648 L454 650 L462 653 L462 657 L426 657 L426 653 L434 650 Z"/>
<path d="M532.5 648 C532.5 640 552.5 640 552.5 648 L552.5 650 L560.5 653 L560.5 657 L524.5 657 L524.5 653 L532.5 650 Z"/>
<path d="M631 648 C631 640 651 640 651 648 L651 650 L659 653 L659 657 L623 657 L623 653 L631 650 Z"/>
</g>
<g fill="#1d4e8a"><rect x="425" y="656" width="38" height="2"/><rect x="523.5" y="656" width="38" height="2"/><rect x="622" y="656" width="38" height="2"/></g>
<g stroke="#3a6a94" stroke-width="1.3" fill="#3a6a94">
<line x1="444" y1="661" x2="444" y2="683"/><path d="M440.5 681 L447.5 681 L444 688 Z"/>
<line x1="542.5" y1="661" x2="542.5" y2="683"/><path d="M539 681 L546 681 L542.5 688 Z"/>
<line x1="641" y1="661" x2="641" y2="683"/><path d="M637.5 681 L644.5 681 L641 688 Z"/>
</g>

<!-- manway -->
<linearGradient id="gMan" x1="0" y1="0" x2="0" y2="1">
  <stop offset="0" stop-color="#2a86d0"/><stop offset="0.5" stop-color="#66b6ea"/><stop offset="1" stop-color="#2a86d0"/>
</linearGradient>
<path d="M859 375.5 L879 375.5 L879 471 L859 471 C852 440 852 405 859 375.5 Z" fill="url(#gMan)" stroke="#1d4e8a" stroke-width="1.2"/>
<path d="M879 375.5 C890 378 898 400 898 423 C898 446 890 468 879 471 Z" fill="#b4dcf4" stroke="#1d4e8a" stroke-width="1.2"/>
<path d="M879 378 C888 398 888 448 879 468 Z" fill="#fff" stroke="#1d4e8a" stroke-width="0.8"/><rect x="879" y="420" width="6" height="6" fill="none" stroke="#1d4e8a" stroke-width="0.8"/>
<rect x="898" y="416" width="8.5" height="12.5" rx="2.5" fill="#2a4a6a"/>
<!-- overflow trap -->
<linearGradient id="gTrap" x1="0" y1="0" x2="0" y2="1"><stop offset="0" stop-color="#5e5e5e"/><stop offset="1" stop-color="#3a3a3a"/></linearGradient>
<linearGradient id="gYel" x1="0" y1="0" x2="1" y2="0"><stop offset="0" stop-color="#e8d080"/><stop offset="0.5" stop-color="#f8eab0"/><stop offset="1" stop-color="#d8c070"/></linearGradient>
<linearGradient id="gYelH" x1="0" y1="0" x2="0" y2="1"><stop offset="0" stop-color="#e8d080"/><stop offset="0.5" stop-color="#f8eab0"/><stop offset="1" stop-color="#d8c070"/></linearGradient>
<rect x="197" y="386" width="25" height="16" fill="url(#gYelH)" stroke="#8a7a3a" stroke-width="1"/>
<rect x="220" y="385" width="12" height="18" rx="5" fill="#5ab6e6" stroke="#1d5e9a" stroke-width="1"/>
<path d="M197 420 L221 420 L221 525 L206 525 L206 437 L197 437 Z" fill="url(#gYel)" stroke="#8a7a3a" stroke-width="1"/>
<path d="M206 437 L221 420" stroke="#8a7a3a" stroke-width="1"/>
<path d="M213 470 L213 488" stroke="#5a4a2a" stroke-width="1"/><path d="M210 486 L216 486 L213 492 Z" fill="#2a2a2a"/>
<rect x="196" y="384" width="6" height="20" rx="2" fill="#6a6a6a"/>
<rect x="196" y="417" width="6" height="21" rx="2" fill="#6a6a6a"/>
<rect x="141" y="376" width="57" height="69" rx="10" fill="url(#gTrap)" stroke="#2a2a2a" stroke-width="1"/>
<!-- labels -->
<g font-size="17" fill="#1a1a1a" stroke="#1a1a1a" stroke-width="0.45">
<text x="20" y="162.5" textLength="150" lengthAdjust="spacingAndGlyphs">PRESSURE REDUCING</text>
<text x="20" y="178" textLength="40" lengthAdjust="spacingAndGlyphs">VALVE</text>
<text x="84" y="255" textLength="89" lengthAdjust="spacingAndGlyphs">LOW PRESS.</text>
<text x="84" y="272.5" textLength="109" lengthAdjust="spacingAndGlyphs">STEAM SUPPLY</text>
<text x="217" y="149.5" textLength="95.5" lengthAdjust="spacingAndGlyphs">RAW (FRESH)</text>
<text x="217" y="167" textLength="119" lengthAdjust="spacingAndGlyphs">MAKE-UP WATER</text>
<text x="382.5" y="109.5" textLength="97.5" lengthAdjust="spacingAndGlyphs">CONTINUOUS</text>
<text x="382.5" y="127" textLength="92.5" lengthAdjust="spacingAndGlyphs">PURGE VENT</text>
<text x="652.5" y="135" textLength="218" lengthAdjust="spacingAndGlyphs">CONDENSATE RETURN WATER</text>
<text x="821" y="174" textLength="56" lengthAdjust="spacingAndGlyphs">SAFETY</text>
<text x="821" y="191" textLength="98" lengthAdjust="spacingAndGlyphs">RELIEF VALVE</text>
<text x="120" y="339.5" textLength="87" lengthAdjust="spacingAndGlyphs">PREHEATER</text>
<text x="120" y="357" textLength="64" lengthAdjust="spacingAndGlyphs">SECTION</text>
<text x="99" y="474" textLength="86" lengthAdjust="spacingAndGlyphs">OVER FLOW</text>
<text x="99" y="492.5" textLength="37" lengthAdjust="spacingAndGlyphs">TRAP</text>
<text x="897" y="483" textLength="88.5" lengthAdjust="spacingAndGlyphs">INSPECTION</text>
<text x="897" y="500" textLength="67" lengthAdjust="spacingAndGlyphs">MAN-WAY</text>
<text x="202.5" y="585" textLength="80" lengthAdjust="spacingAndGlyphs">SCRUBBER</text>
<text x="202.5" y="604" textLength="65" lengthAdjust="spacingAndGlyphs">SECTION</text>
</g>
<!-- leaders -->
<g fill="none" stroke="#222" stroke-width="1.4">
<path d="M72 175 C95 175 102 178 108 184"/>
<path d="M200 272 L222 272 L262 236"/>
<path d="M342.5 165.5 L369 165.5 L438 217"/>
<path d="M478 127 L506 127 L525 109"/>
<path d="M642.5 135 L617.5 137.5 L617.5 160"/>
<path d="M812.5 188 L785 188 L763 206"/>
<path d="M191 354.5 C240 356 280 360 308 366"/>
<path d="M169 486 L195 486 L195 458"/>
<path d="M889 498 L870.5 498 L866 482"/>
<path d="M274 602.5 L299 602.5 L322 568"/>
<path d="M333 552 L343 540"/>
</g>
<g fill="#222">
<path d="M104 179 L112 188 L102 186 Z"/>
<path d="M257 233 L267 231 L262 240 Z"/>
<path d="M434 215 L445 221 L437 211 Z"/>
<path d="M521 106 L530 105 L527 114 Z"/>
<path d="M613 159 L622 159 L617.5 168 Z"/>
<path d="M757 210 L763 200 L766 207 Z"/>
<path d="M304 362 L315 368 L304 372 Z"/>
<path d="M191 459 L199 459 L195 450 Z"/>
<path d="M862 484 L870 483 L864 475 Z"/>
<path d="M339 542 L347 535 L346 545 Z"/>
</g>
</svg>
</body></html>
